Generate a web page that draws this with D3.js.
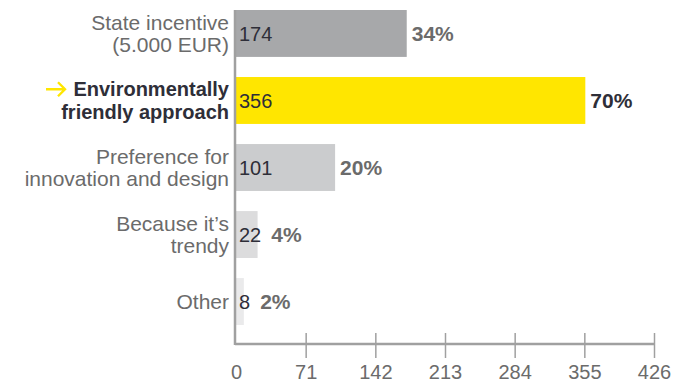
<!DOCTYPE html>
<html>
<head>
<meta charset="utf-8">
<script src="https://cdn.jsdelivr.net/npm/d3@7"></script>
<style>
  html, body { margin: 0; padding: 0; background: #fff; }
  svg { display: block; font-family: "Liberation Sans", Arial, Helvetica, sans-serif; }
</style>
</head>
<body>
<svg id="chart" width="675" height="386"></svg>
<script>
// Reasons for choosing the product: number of responses and share of respondents
const categories = [
  ["State incentive", "(5.000 EUR)"],
  ["Environmentally", "friendly approach"],
  ["Preference for", "innovation and design"],
  ["Because it\u2019s", "trendy"],
  ["Other"]
];
const counts = [174, 356, 101, 22, 8];
const shares = ["34%", "70%", "20%", "4%", "2%"];
const barColors = ["#a7a8aa", "#ffe600", "#cbccce", "#dcdcdd", "#eaeaeb"];
const highlight = [false, true, false, false, false];
const tickValues = [0, 71, 142, 213, 284, 355, 426];

const svg = d3.select("#chart");
const axisY = 344;

const x = d3.scaleLinear().domain([0, 426]).range([236, 654]);
const y = d3.scaleBand()
  .domain(d3.range(counts.length))
  .range([10, 325])
  .paddingInner(0.3)
  .paddingOuter(0);

// bars
svg.append("g").selectAll("rect")
  .data(counts)
  .join("rect")
  .attr("x", x(0))
  .attr("y", (d, i) => y(i))
  .attr("width", d => x(d) - x(0))
  .attr("height", y.bandwidth())
  .attr("fill", (d, i) => barColors[i]);

// counts inside bars
const countLabels = svg.append("g").selectAll("text")
  .data(counts)
  .join("text")
  .attr("x", x(0) + 3)
  .attr("y", (d, i) => y(i) + y.bandwidth() / 2)
  .attr("dy", "0.36em")
  .attr("font-size", 20)
  .attr("fill", "#2e2e38")
  .text(d => d);

// measured right edge of each count label, so shares never collide with it
const countEnds = [];
countLabels.each(function(d, i) {
  countEnds[i] = x(0) + 3 + this.getComputedTextLength();
});

// shares after bars
svg.append("g").selectAll("text")
  .data(counts)
  .join("text")
  .attr("x", (d, i) => Math.max(x(d) + 5, countEnds[i] + 10))
  .attr("y", (d, i) => y(i) + y.bandwidth() / 2)
  .attr("dy", "0.36em")
  .attr("font-size", 21)
  .attr("font-weight", "bold")
  .attr("fill", (d, i) => highlight[i] ? "#2e2e38" : "#6b6b6b")
  .text((d, i) => shares[i]);

// category labels, one text per line
const lh = 22.5;
const labelLines = [];
categories.forEach((lines, i) => {
  const cy = y(i) + y.bandwidth() / 2;
  const top = cy - (lines.length - 1) * lh / 2;
  lines.forEach((l, j) => labelLines.push({ text: l, i, y: top + j * lh }));
});

svg.append("g").selectAll("text")
  .data(labelLines)
  .join("text")
  .attr("x", 229)
  .attr("y", d => d.y)
  .attr("dy", "0.36em")
  .attr("text-anchor", "end")
  .attr("font-size", d => highlight[d.i] ? 20 : 21)
  .attr("font-weight", d => highlight[d.i] ? "bold" : "normal")
  .attr("fill", d => highlight[d.i] ? "#2e2e38" : "#6b6b6b")
  .text(d => d.text);

// arrow marking the highlighted reason
highlight.forEach((h, i) => {
  if (!h) return;
  const cy = y(i) + y.bandwidth() / 2 - lh / 2;
  svg.append("path")
    .attr("d", `M46,${cy} H65 M58,${cy - 7} L65,${cy} L58,${cy + 7}`)
    .attr("fill", "none")
    .attr("stroke", "#ffe600")
    .attr("stroke-width", 2.4);
});

// bottom axis
const xAxis = d3.axisBottom(x).tickValues(tickValues).tickSize(0).tickPadding(21);
const gx = svg.append("g")
  .attr("transform", `translate(0,${axisY})`)
  .call(xAxis);
gx.select(".domain").remove();
gx.selectAll(".tick line")
  .attr("y1", -11)
  .attr("y2", 14)
  .attr("stroke", "#a0a0a0")
  .attr("stroke-width", 1.5)
  .filter(d => d === 0).remove();
gx.selectAll(".tick text")
  .attr("font-size", 20)
  .attr("font-family", "Liberation Sans, Arial, sans-serif")
  .attr("fill", "#6b6b6b");

svg.append("line")
  .attr("x1", x(0) - 1).attr("x2", x(426))
  .attr("y1", axisY).attr("y2", axisY)
  .attr("stroke", "#a0a0a0").attr("stroke-width", 2.5);

// vertical axis line
svg.append("line")
  .attr("x1", x(0) - 1).attr("x2", x(0) - 1)
  .attr("y1", 10).attr("y2", axisY + 1)
  .attr("stroke", "#a0a0a0").attr("stroke-width", 2.5);
</script>
</body>
</html>
